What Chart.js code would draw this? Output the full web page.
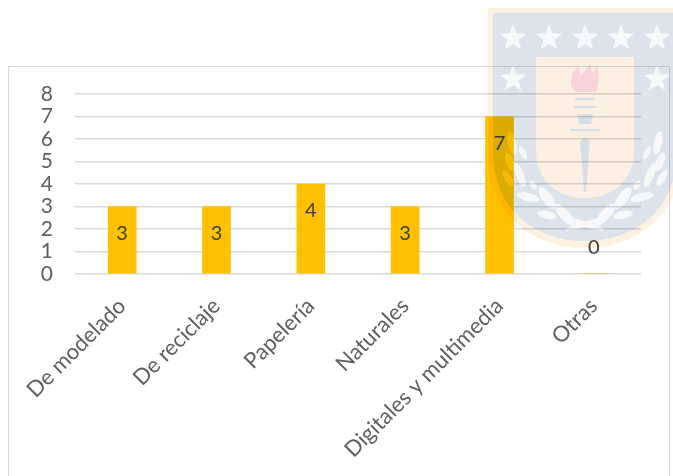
<!DOCTYPE html>
<html>
<head>
<meta charset="utf-8">
<title>Recursos</title>
<script src="https://cdn.jsdelivr.net/npm/chart.js@4"></script>
<style>
    html, body { margin: 0; padding: 0; background: #fff; overflow: hidden; }
    canvas { display: block; filter: blur(0.5px); }
</style>
</head>
<body>
<canvas id="recursosChart" width="673" height="476"></canvas>
<script>
const categories = ['De modelado', 'De reciclaje', 'Papelería', 'Naturales', 'Digitales y multimedia', 'Otras'];
const values = [3, 3, 4, 3, 7, 0];
const yTicks = [0, 1, 2, 3, 4, 5, 6, 7, 8];

const FONT = 'Lato, "Open Sans", sans-serif';
const TEXT_GREY = '#5f5f5f';

function star(g, cx, cy, r) {
    g.beginPath();
    for (let i = 0; i < 10; i++) {
        const rad = i % 2 ? r * 0.42 : r;
        const a = -Math.PI / 2 + i * Math.PI / 5;
        g.lineTo(cx + rad * Math.cos(a), cy + rad * Math.sin(a));
    }
    g.closePath();
    g.fill();
}

function leaf(g, cx, cy, len, wid, rot) {
    g.beginPath();
    g.ellipse(cx, cy, len, wid, rot, 0, Math.PI * 2);
    g.fill();
}

// University crest sitting over the chart like a watermark
function drawCrest() {
    const off = document.createElement('canvas');
    off.width = 673;
    off.height = 476;
    const g = off.getContext('2d');

    const shield = (l, r, t, mid, b) => {
        g.beginPath();
        g.moveTo(l, t);
        g.lineTo(r, t);
        g.lineTo(r, mid);
        g.bezierCurveTo(r, mid + (b - mid) * 0.7, 585 + (r - 585) * 0.5, b, 585, b);
        g.bezierCurveTo(585 - (585 - l) * 0.5, b, l, mid + (b - mid) * 0.7, l, mid);
        g.closePath();
        g.fill();
    };

    g.fillStyle = '#fdf1e2';
    shield(488, 682, 8, 150, 248);
    g.fillStyle = '#dce3eb';
    shield(493, 677, 13, 150, 241);
    g.fillStyle = '#fdf0e2';
    shield(536, 634, 57, 150, 198);

    g.fillStyle = '#f8f9fb';
    [513, 549, 585, 621, 657].forEach(x => star(g, x, 38, 14));
    [513, 657].forEach(x => star(g, x, 79, 14));

    // flame
    g.fillStyle = '#f8d3dc';
    g.beginPath();
    g.moveTo(572, 88);
    g.bezierCurveTo(568, 78, 574, 72, 578, 66);
    g.lineTo(581, 76);
    g.lineTo(590, 64);
    g.lineTo(592, 74);
    g.lineTo(597, 65);
    g.bezierCurveTo(600, 76, 598, 86, 596, 92);
    g.lineTo(576, 92);
    g.closePath();
    g.fill();

    // torch
    g.fillStyle = '#d6dfe8';
    g.fillRect(575, 98, 20, 2);
    g.fillRect(574, 106, 22, 2);
    g.beginPath();
    g.moveTo(577, 114);
    g.lineTo(593, 114);
    g.lineTo(591, 124);
    g.lineTo(579, 124);
    g.closePath();
    g.fill();
    g.fillRect(570, 129, 30, 2);
    g.beginPath();
    g.moveTo(580, 142);
    g.quadraticCurveTo(585, 134, 590, 142);
    g.lineTo(586, 192);
    g.lineTo(584, 192);
    g.closePath();
    g.fill();

    // laurel
    g.fillStyle = '#f6f8fa';
    const leaves = [
        [73, 143, 12, 4, 1.35], [62, 153, 7, 3, 1.1], [75, 162, 10, 4, 1.2],
        [65, 175, 13, 4, 1.2], [77, 178, 9, 3.5, 1.0], [38, 198, 13, 5, 0.95],
        [57, 197, 12, 4, 0.25], [52, 185, 5, 3, 0.9], [38, 215, 10, 4, 0.2],
        [20, 215, 14, 5, 0.85], [0, 224, 20, 2.5, 0.3], [0, 224, 20, 2.5, -0.3]
    ];
    leaves.forEach(([dx, y, len, wid, rot]) => {
        leaf(g, 585 + dx, y, len, wid, -rot);
        leaf(g, 585 - dx, y, len, wid, rot);
    });
    return off;
}

const pagePlugin = {
    id: 'pagePlugin',
    beforeDraw(chart) {
        const ctx = chart.ctx;
        ctx.save();
        ctx.fillStyle = '#fff';
        ctx.fillRect(0, 0, chart.width, chart.height);
        ctx.strokeStyle = '#d9d9d9';
        ctx.lineWidth = 1;
        ctx.strokeRect(8.5, 66.5, 661, 420);
        ctx.restore();
    },
    afterDatasetsDraw(chart) {
        // value labels, placed relative to each bar
        const ctx = chart.ctx;
        const x = chart.scales.x;
        const y = chart.scales.y;
        ctx.save();
        ctx.font = '20px ' + FONT;
        ctx.fillStyle = '#404040';
        ctx.textAlign = 'center';
        ctx.textBaseline = 'middle';
        values.forEach((v, i) => {
            const top = y.getPixelForValue(v);
            ctx.fillText(String(v), x.getPixelForValue(i), v > 0 ? top + 27 : top - 26);
        });
        ctx.restore();
    },
    afterDraw(chart) {
        const ctx = chart.ctx;
        ctx.save();
        ctx.globalCompositeOperation = 'multiply';
        ctx.drawImage(drawCrest(), 0, 0);
        ctx.restore();
    }
};

new Chart(document.getElementById('recursosChart'), {
    type: 'bar',
    data: {
        labels: categories,
        datasets: [{
            data: values,
            backgroundColor: '#ffc000',
            barThickness: 28
        }]
    },
    options: {
        responsive: false,
        animation: false,
        layout: { padding: { left: 25, right: 32, top: 94, bottom: 0 } },
        plugins: {
            legend: { display: false },
            tooltip: { enabled: false }
        },
        scales: {
            x: {
                grid: { display: false, drawTicks: false },
                border: { display: false },
                afterFit: s => { s.height = 202; s.paddingTop = 0; s.paddingLeft = 0; s.paddingRight = 0; },
                ticks: {
                    autoSkip: false,
                    minRotation: 45,
                    maxRotation: 45,
                    padding: 19,
                    color: TEXT_GREY,
                    font: { family: FONT, size: 22 }
                }
            },
            y: {
                min: 0,
                max: 8,
                afterBuildTicks: s => { s.ticks = yTicks.map(v => ({ value: v })); },
                afterFit: s => { s.width = 50; s.paddingTop = 0; s.paddingBottom = 0; },
                grid: { color: '#d9d9d9', lineWidth: 1.5, drawTicks: false },
                border: { display: false },
                ticks: {
                    autoSkip: false,
                    padding: 22,
                    color: TEXT_GREY,
                    font: { family: FONT, size: 21 }
                }
            }
        }
    },
    plugins: [pagePlugin]
});
</script>
</body>
</html>
